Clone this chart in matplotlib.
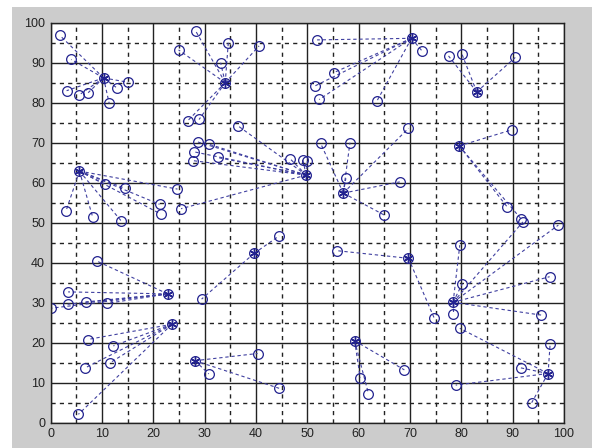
import numpy as np
import matplotlib.pyplot as plt
from matplotlib.patches import Rectangle

# cluster centres
cx = [10.3, 34.0, 5.6, 49.8, 70.3, 83.0, 57.0, 79.6, 78.4, 69.7, 59.2, 96.9, 39.6, 28.1, 22.8, 23.6]
cy = [86.2, 85.0, 62.9, 61.9, 96.1, 82.7, 57.4, 69.2, 30.1, 41.1, 20.5, 12.3, 42.3, 15.5, 32.2, 24.6]

# data points and the cluster each one belongs to
px = [1.8, 4.0, 3.1, 5.5, 7.3, 11.4, 13.0, 15.1,
      28.3, 24.9, 34.6, 33.1, 40.6, 26.7, 28.9,
      10.6, 14.5, 3.0, 8.2, 13.7, 21.2, 21.4, 24.7,
      36.5, 28.6, 30.9, 28.0, 27.8, 32.5, 46.7, 49.1, 50.0, 25.4,
      51.9, 72.3, 55.1, 51.5, 52.3, 63.5,
      77.5, 80.1, 90.5,
      52.6, 58.3, 57.5, 68.0, 69.7, 65.0,
      89.8, 88.9, 91.6,
      79.7, 80.2, 78.4, 95.6, 97.2, 92.0, 98.9,
      55.8, 74.7,
      60.3, 61.9, 68.9,
      97.3, 91.6, 93.7, 78.9, 79.7,
      44.5, 29.4,
      40.3, 30.8, 44.5,
      9.0, 3.4, 3.3, 6.8, 10.9, 0.0,
      7.2, 12.2, 6.7, 11.6, 5.4]
py = [96.8, 90.8, 83.0, 81.9, 82.5, 79.8, 83.6, 85.1,
      97.8, 93.2, 95.0, 90.0, 94.2, 75.5, 75.8,
      59.6, 58.6, 53.0, 51.3, 50.5, 54.6, 52.2, 58.4,
      74.2, 70.2, 69.6, 67.7, 65.5, 66.3, 65.9, 65.7, 65.4, 53.5,
      95.7, 93.0, 87.5, 84.2, 80.8, 80.3,
      91.7, 92.2, 91.3,
      69.8, 70.0, 61.1, 60.2, 73.6, 51.9,
      73.2, 54.0, 51.0,
      44.4, 34.8, 27.1, 26.9, 36.5, 50.2, 49.4,
      43.0, 26.2,
      11.3, 7.3, 13.2,
      19.8, 13.7, 5.0, 9.4, 23.6,
      46.7, 30.9,
      17.3, 12.2, 8.6,
      40.4, 32.7, 29.6, 30.2, 29.8, 28.6,
      20.8, 19.2, 13.7, 15.0, 2.1]
lab = [0]*8 + [1]*7 + [2]*8 + [3]*10 + [4]*6 + [5]*3 + [6]*6 + [7]*3 + \
      [8]*7 + [9]*2 + [10]*3 + [11]*5 + [12]*2 + [13]*3 + [14]*6 + [15]*5

col = '#22228f'

fig = plt.figure(figsize=(5.99, 4.48), dpi=100, facecolor='white')
fig.patches.append(Rectangle((12/599, 0), 580/599, 441/448, transform=fig.transFigure,
                             facecolor='#cccccc', edgecolor='none', zorder=-10))
ax = fig.add_axes([50.7/599, 25.3/448, 513.3/599, 400/448])

for i in range(len(px)):
    k = lab[i]
    ax.plot([cx[k], px[i]], [cy[k], py[i]], '--', color='#4040a0', lw=0.8, dashes=(3, 2.5))

ax.plot(px, py, 'o', mfc='none', mec=col, ms=7, mew=0.9, ls='none')
ax.plot(cx, cy, 'o', mfc='none', mec=col, ms=7, mew=0.9, ls='none')
ax.plot(cx, cy, marker=(6, 2, 0), color=col, ms=7, mew=1.0, ls='none')

ax.set_xlim(0, 100)
ax.set_ylim(0, 100)
ax.set_xticks(np.arange(0, 101, 10))
ax.set_yticks(np.arange(0, 101, 10))
ax.set_xticks(np.arange(5, 100, 10), minor=True)
ax.set_yticks(np.arange(5, 100, 10), minor=True)
ax.grid(which='major', color='#222222', ls='-', lw=1.0)
ax.grid(which='minor', color='#222222', ls='--', lw=1.0, dashes=(3, 3))
ax.set_axisbelow(True)
ax.tick_params(which='both', direction='in', length=0, labelsize=9, labelcolor='#222222', pad=4)
ax.tick_params(which='minor', length=0)
for lbl in ax.get_xticklabels() + ax.get_yticklabels():
    lbl.set_family('Liberation Sans')
for s in ax.spines.values():
    s.set_color('#222222')
    s.set_linewidth(1.0)

fig.savefig('out.png', dpi=100, facecolor=fig.get_facecolor())
